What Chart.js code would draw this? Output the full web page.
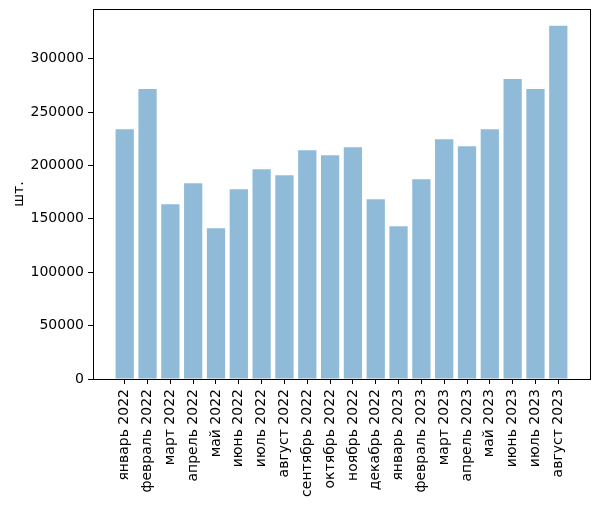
<!DOCTYPE html>
<html>
<head>
<meta charset="utf-8">
<script src="https://cdn.jsdelivr.net/npm/chart.js@4"></script>
<style>
  html, body { margin: 0; padding: 0; background: #fff; }
  #wrap { width: 598px; height: 506px; }
</style>
</head>
<body>
<div id="wrap"><canvas id="graph"></canvas></div>
<script>
// Месяцы (подписи оси X)
const months = [
  'январь 2022', 'февраль 2022', 'март 2022', 'апрель 2022', 'май 2022',
  'июнь 2022', 'июль 2022', 'август 2022', 'сентябрь 2022', 'октябрь 2022',
  'ноябрь 2022', 'декабрь 2022', 'январь 2023', 'февраль 2023', 'март 2023',
  'апрель 2023', 'май 2023', 'июнь 2023', 'июль 2023', 'август 2023'
];

// Значения, шт.
const counts = [
  234000, 271500, 163600, 183300, 141100,
  177700, 196500, 190800, 214300, 209600,
  217100, 168300, 143000, 187100, 224600,
  218000, 234000, 280900, 271500, 330700
];

// Деления оси Y
const yTicks = [0, 50000, 100000, 150000, 200000, 250000, 300000];

Chart.defaults.font.family = '"DejaVu Sans", sans-serif';
Chart.defaults.font.size = 14;
Chart.defaults.color = '#000';

// Рамка вокруг области графика
const frame = {
  id: 'frame',
  afterDraw(chart) {
    const a = chart.chartArea, c = chart.ctx;
    c.save();
    c.strokeStyle = '#000';
    c.lineWidth = 1;
    c.strokeRect(Math.round(a.left) + 0.5, Math.round(a.top) + 0.5,
                 Math.round(a.right - a.left), Math.round(a.bottom - a.top));
    c.restore();
  }
};

const ctx = document.getElementById('graph').getContext('2d');
new Chart(ctx, {
  type: 'bar',
  data: {
    datasets: [{
      data: counts.map((v, i) => ({ x: i, y: v })),
      backgroundColor: 'rgba(31, 119, 180, 0.5)',
      barPercentage: 0.8,
      categoryPercentage: 1.0
    }]
  },
  options: {
    responsive: true,
    maintainAspectRatio: false,
    animation: false,
    layout: { padding: { top: 9, right: 8, left: 11, bottom: 0 } },
    plugins: { legend: { display: false }, tooltip: { enabled: false } },
    scales: {
      x: {
        type: 'linear',
        offset: false,
        min: -1.39,
        max: 20.39,
        grid: { offset: false, drawOnChartArea: false, color: '#000', tickLength: 5 },
        border: { display: false },
        afterBuildTicks: s => { s.ticks = months.map((_, i) => ({ value: i })); },
        afterFit: s => { s.height = 127; s.paddingLeft = 0; s.paddingRight = 0; },
        ticks: {
          autoSkip: false,
          minRotation: 90,
          maxRotation: 90,
          padding: 5,
          callback: v => months[v]
        }
      },
      y: {
        min: 0,
        max: 346500,
        grid: { drawOnChartArea: false, color: '#000', tickLength: 5 },
        border: { display: false },
        afterBuildTicks: s => { s.ticks = yTicks.map(v => ({ value: v })); },
        afterFit: s => { s.width = 82; s.paddingTop = 0; s.paddingBottom = 0; },
        title: { display: true, text: 'шт.', padding: { top: 0, bottom: 6 } },
        ticks: { padding: 4, callback: v => String(v) }
      }
    }
  },
  plugins: [frame]
});
</script>
</body>
</html>
